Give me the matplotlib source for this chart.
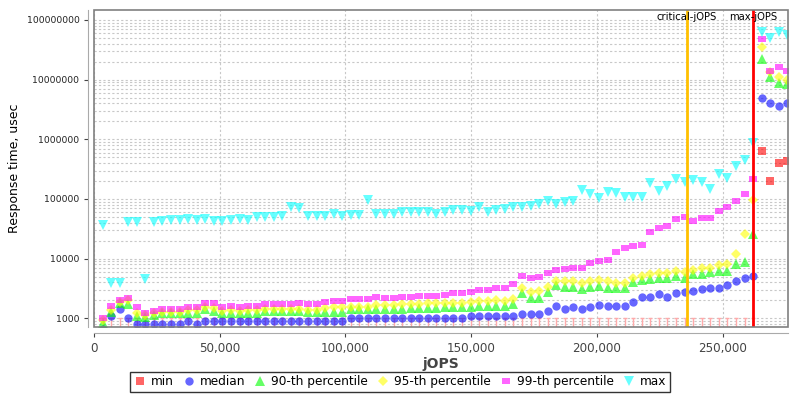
import matplotlib
matplotlib.use("Agg")
import matplotlib.pyplot as plt
import matplotlib.ticker as mticker
from matplotlib.patches import Rectangle
import numpy as np

# step of the RT curve (jOPS per point), points 1..81
step = 3404
k = np.arange(1, 82)
jops = step * k

critical_jops = 235760
max_jops = 262100

# min response times: first 77 points sit at the bottom, last four are high
min_rt = [1000] * 77 + [634000, 202000, 395000, 432000]

median_rt = [650, 1100, 1410, 1000, 800, 800, 800, 800, 800, 800,
             910, 800, 910] + [910] * 16 + [1020] * 14 + [1100] * 6 + [
             1180, 1200, 1200, 1340, 1630, 1430, 1530, 1430, 1530, 1650,
             1600, 1600, 1600, 1850, 2300, 2300, 2520, 2300, 2700, 2730,
             2900, 3100, 3260, 3260, 3620, 4260, 4800, 5100,
             4840000, 4000000, 3600000, 4000000]

p90_rt = [825, 1290, 1830, 1740, 1100, 1040, 1140, 1210, 1210, 1210,
          1240, 1240, 1430, 1330, 1210, 1240, 1210, 1240, 1210, 1330,
          1330, 1330, 1330, 1310] + [1290] * 5 + [1410] * 7 + [1470] * 4 + [
          1530] * 4 + [1600] * 4 + [
          1740, 2690, 2210, 2210, 2790, 3620, 3300, 3300, 3060, 3300,
          3480, 3250, 3180, 3180, 4000, 4400, 4550, 4800, 4680, 5100,
          4680, 5500, 5500, 6000, 6200, 6200, 8000, 8700, 25500,
          21800000, 11100000, 8800000, 8600000]

p95_rt = [940, 1380, 1900, 2030, 1210, 1140, 1210, 1290, 1290, 1290,
          1380, 1380, 1530, 1470, 1350, 1380, 1350, 1380, 1380, 1410,
          1410, 1410, 1410, 1420, 1380, 1380, 1470, 1530, 1530, 1560,
          1560, 1560, 1670, 1670, 1670, 1740, 1740, 1740, 1780, 1780,
          1780, 1830, 1780, 1900, 1970, 1970, 2040, 1970, 2080, 3260,
          2790, 2880, 3380, 4260, 4150, 4150, 3950, 4150, 4380, 4200,
          3860, 3950, 4800, 5100, 5500, 5700, 5800, 6300, 6000, 6450,
          6900, 6900, 7800, 8000, 11800, 25500, 98000,
          35400000, 13200000, 11100000, 9800000]

p99_rt = [1000, 1600, 2030, 2210, 1530, 1210, 1330, 1430, 1430, 1430,
          1530, 1530, 1830, 1830, 1530, 1600, 1530, 1600, 1600, 1720,
          1720, 1720, 1720, 1830, 1740, 1740, 1850, 1970, 1970, 2080,
          2080, 2080, 2250, 2170, 2170, 2250, 2250, 2360, 2360, 2360,
          2450, 2620, 2620, 2790, 2980, 2980, 3180, 3180, 3760, 5100,
          4800, 4850, 5670, 6450, 6600, 6900, 7050, 8300, 9100, 9500,
          13000, 15200, 16600, 16900, 27600, 33000, 35600, 45600, 50400, 43100,
          47300, 47300, 63000, 72000, 92000, 119000, 215000,
          47600000, 13900000, 16000000, 14000000]

max_rt = [36500, 3860, 3950, 40500, 40500, 4500, 41500, 43100, 44000, 44000,
          46000, 44000, 46000, 42500, 42500, 44000, 45500, 44000, 49200, 50400,
          50400, 51500, 74000, 69500, 51500, 52000, 52000, 57000, 52000, 53500,
          53500, 96000, 57000, 55800, 55800, 59500, 59500, 59500, 61000, 55800,
          61000, 65000, 65000, 63000, 72000, 59500, 65000, 68500, 74000, 74000,
          76000, 82000, 93500, 82000, 88000, 93000, 141000, 121000, 102000, 132000,
          124000, 106000, 110000, 106000, 182000, 137000, 166000, 215000, 194000, 207000,
          190000, 146000, 261000, 227000, 360000, 449000, 853000,
          61700000, 49000000, 61700000, 55600000]

rect_marker = [(-1, -0.65), (1, -0.65), (1, 0.65), (-1, 0.65), (-1, -0.65)]

fig = plt.figure(figsize=(8, 4), dpi=100)
ax = fig.add_axes([0.1175, 0.1825, 0.8675, 0.7925])
ymin, ymax = 715, 1.47e8

a = 0.6
mins = np.array(min_rt)
low = mins < 2000
ax.vlines(jops[low], ymin, mins[low], color='#ffaaaa', lw=1, zorder=2)
ax.plot(jops[low], mins[low], '_', color='#ffaaaa', ms=3, mew=1, zorder=2)
ax.plot(jops[~low], mins[~low], 's', color='#ff0000', alpha=a, ms=6, mew=0, zorder=3)
ax.plot([], [], 's', color='#ff0000', alpha=a, ms=6, mew=0, label='min')

ax.plot(jops, median_rt, 'o', color='#0000ff', alpha=a, ms=6, mew=0, label='median', zorder=3)
ax.plot(jops, p90_rt, '^', color='#00ff00', alpha=a, ms=6.5, mew=0, label='90-th percentile', zorder=3)
ax.plot(jops, p95_rt, 'D', color='#ffff00', alpha=a, ms=5, mew=0, label='95-th percentile', zorder=3)
ax.plot(jops, p99_rt, marker=rect_marker, ls='none', color='#ff00ff', alpha=a, ms=6, mew=0,
        label='99-th percentile', zorder=3)
ax.plot(jops, max_rt, 'v', color='#00ffff', alpha=a, ms=6.5, mew=0, label='max', zorder=3)

ax.axvline(critical_jops, color='#ffc000', lw=2, zorder=4)
ax.axvline(max_jops, color='#ff0000', lw=2, zorder=4)
ax.text(critical_jops, 1.12e8, 'critical-jOPS', ha='center', va='center', fontsize=7.2, zorder=5)
ax.text(max_jops, 1.12e8, 'max-jOPS', ha='center', va='center', fontsize=7.2, zorder=5)

ax.set_yscale('log')
ax.set_ylim(ymin, ymax)
ax.set_xlim(0, 276000)
ax.set_yticks([1e3, 1e4, 1e5, 1e6, 1e7, 1e8])
ax.yaxis.set_major_formatter(mticker.FuncFormatter(lambda v, p: '%d' % round(v)))
ax.yaxis.set_minor_formatter(mticker.NullFormatter())
ax.set_xticks([0, 50000, 100000, 150000, 200000, 250000])
ax.xaxis.set_major_formatter(mticker.FuncFormatter(lambda v, p: '{:,}'.format(int(v))))

ax.grid(True, which='major', axis='both', color='#c8c8c8', ls=(0, (2, 2)), lw=0.8)
ax.grid(True, which='minor', axis='y', color='#c8c8c8', ls=(0, (2, 2)), lw=0.8)
ax.set_axisbelow(True)

for s in ['top', 'right']:
    ax.spines[s].set_visible(False)
for s in ['left', 'bottom']:
    ax.spines[s].set_position(('outward', 4))
    ax.spines[s].set_color('#aaaaaa')
ax.add_patch(Rectangle((0, 0), 1, 1, transform=ax.transAxes, fill=False,
                       edgecolor='#808080', lw=1.2, clip_on=False, zorder=6))

ax.tick_params(axis='y', which='major', labelsize=6.7, colors='#444444', length=3, labelcolor='#222222')
ax.tick_params(axis='y', which='minor', length=0)
ax.tick_params(axis='x', labelsize=8.6, colors='#444444', length=3, labelcolor='#444444')

ax.set_ylabel('Response time, usec', fontsize=9)
ax.set_xlabel('jOPS', fontsize=10, fontweight='bold', color='#444444', labelpad=2)

leg = fig.legend(loc='lower center', bbox_to_anchor=(0.5, 0.005), ncol=6, fontsize=8.7,
                 frameon=True, fancybox=False, edgecolor='black', handlelength=1,
                 handletextpad=0.4, columnspacing=0.75, borderpad=0.3)
leg.get_frame().set_linewidth(1)
for h in leg.legend_handles:
    h.set_alpha(0.6)

fig.savefig('out.png', dpi=100)
